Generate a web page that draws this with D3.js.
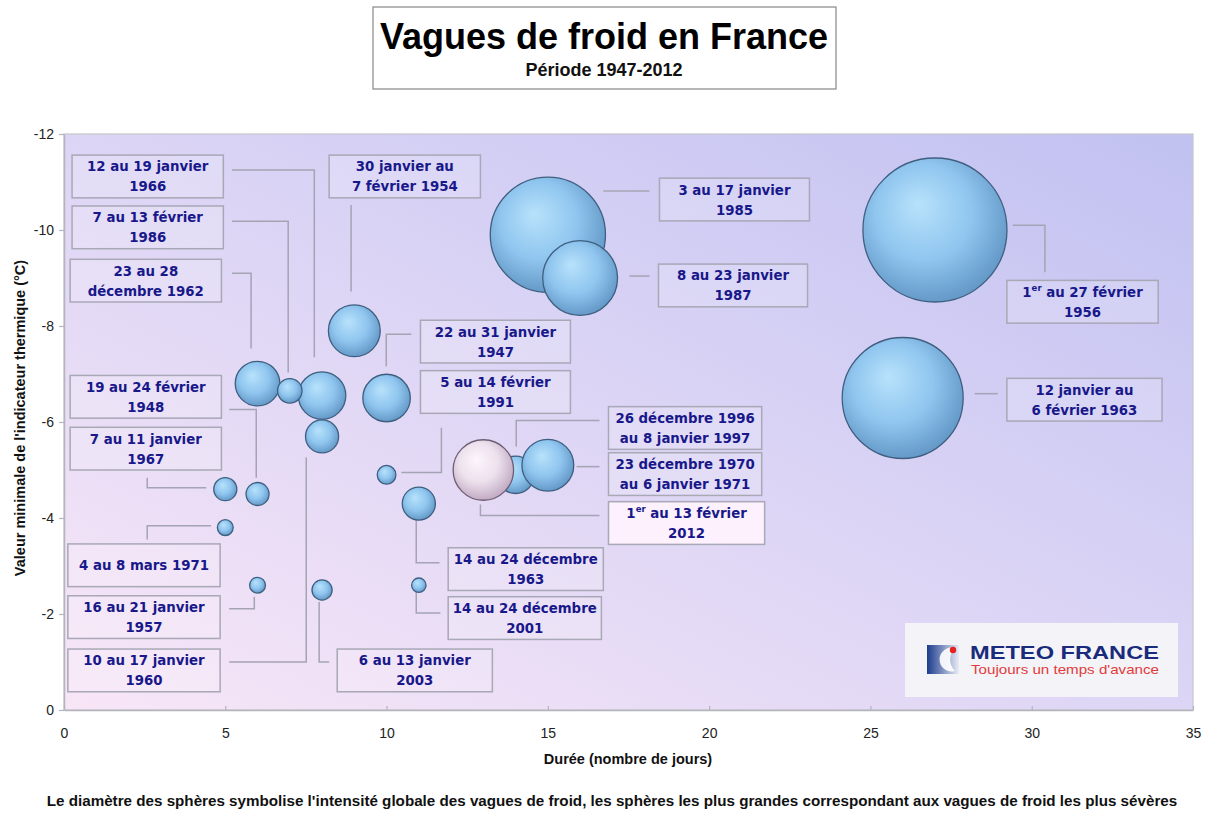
<!DOCTYPE html>
<html>
<head>
<meta charset="utf-8">
<script src="https://cdn.jsdelivr.net/npm/d3@7"></script>
<style>
  body { margin: 0; background: #fff; }
  text { font-family: "Liberation Sans", Arial, sans-serif; }
  .lbl { font-family: "DejaVu Sans Condensed", "DejaVu Sans", sans-serif; font-weight: bold; font-size: 14.8px; fill: #18188a; }
</style>
</head>
<body>
<script>
// Data: duration (days), min of thermal indicator (°C),
// global intensity (drives the sphere diameter), period labels
var periods = [
  "1er au 27 février\n1956",
  "12 janvier au\n6 février 1963",
  "3 au 17 janvier\n1985",
  "8 au 23 janvier\n1987",
  "30 janvier au\n7 février 1954",
  "22 au 31 janvier\n1947",
  "12 au 19 janvier\n1966",
  "23 au 28\ndécembre 1962",
  "7 au 13 février\n1986",
  "10 au 17 janvier\n1960",
  "14 au 24 décembre\n1963",
  "26 décembre 1996\nau 8 janvier 1997",
  "23 décembre 1970\nau 6 janvier 1971",
  "1er au 13 février\n2012",
  "7 au 11 janvier\n1967",
  "19 au 24 février\n1948",
  "5 au 14 février\n1991",
  "4 au 8 mars 1971",
  "16 au 21 janvier\n1957",
  "6 au 13 janvier\n2003",
  "14 au 24 décembre\n2001"
];
var durations   = [27, 26, 15, 16, 9, 10, 8, 6, 7, 8, 11, 14, 15, 13, 5, 6, 10, 5, 6, 8, 11];
var minTemps    = [-10.0, -6.5, -9.9, -9.0, -7.9, -6.5, -6.55, -6.8, -6.65, -5.7, -4.3, -4.9, -5.1, -5.0, -4.6, -4.5, -4.9, -3.8, -2.6, -2.5, -2.6];
var intensities = [100, 84, 80, 52, 36, 33, 33, 31, 17, 23, 23, 26, 36, 42, 16, 16, 13, 11, 11, 14, 10];
var highlighted = "1er au 13 février\n2012";

var xTicks = [0, 5, 10, 15, 20, 25, 30, 35];
var yTicks = [0, -2, -4, -6, -8, -10, -12];

// Annotation layout (data units): box top-left, box width, and leader line
var labelLayout = [
  {bx: 29.23, by: -8.95, bw: 4.69, link: [[29.41, -10.10], [30.41, -10.10], [30.41, -9.12]]},
  {bx: 29.23, by: -6.91, bw: 4.81, link: [[28.95, -6.59], [28.23, -6.59]]},
  {bx: 18.46, by: -11.08, bw: 4.65, link: [[18.15, -10.81], [16.72, -10.81]]},
  {bx: 18.43, by: -9.29, bw: 4.62, link: [[18.15, -9.04], [17.53, -9.04]]},
  {bx: 8.22, by: -11.56, bw: 4.69, link: [[8.90, -10.52], [8.90, -8.72]]},
  {bx: 11.05, by: -8.12, bw: 4.65, link: [[10.77, -7.83], [9.99, -7.83], [9.99, -7.16]]},
  {bx: 0.25, by: -11.56, bw: 4.69, link: [[5.21, -11.25], [7.76, -11.25], [7.76, -7.35]]},
  {bx: 0.19, by: -9.39, bw: 4.69, link: [[5.21, -9.10], [5.80, -9.10], [5.80, -7.53]]},
  {bx: 0.25, by: -10.50, bw: 4.69, link: [[5.21, -10.18], [6.95, -10.18], [6.95, -7.03]]},
  {bx: 0.12, by: -1.27, bw: 4.72, link: [[5.12, -1.00], [7.51, -1.00], [7.51, -5.26]]},
  {bx: 11.91, by: -3.38, bw: 4.81, link: [[11.64, -3.07], [10.92, -3.07], [10.92, -4.01]]},
  {bx: 16.88, by: -6.32, bw: 4.75, link: [[16.60, -6.03], [14.02, -6.03], [14.02, -5.49]]},
  {bx: 16.88, by: -5.36, bw: 4.75, link: [[16.60, -5.07], [15.89, -5.07]]},
  {bx: 16.88, by: -4.34, bw: 4.84, link: [[16.60, -4.05], [12.91, -4.05], [12.91, -4.28]]},
  {bx: 0.19, by: -5.89, bw: 4.69, link: [[2.58, -4.84], [2.58, -4.63], [4.41, -4.63]]},
  {bx: 0.19, by: -6.97, bw: 4.69, link: [[5.12, -6.26], [5.96, -6.26], [5.96, -4.84]]},
  {bx: 11.05, by: -7.07, bw: 4.65, link: [[11.70, -5.88], [11.70, -4.95], [10.46, -4.95]]},
  {bx: 0.12, by: -3.46, bw: 4.72, link: [[2.58, -3.55], [2.58, -3.84], [4.56, -3.84]]},
  {bx: 0.12, by: -2.38, bw: 4.72, link: [[5.12, -2.11], [5.90, -2.11], [5.90, -2.36]]},
  {bx: 8.47, by: -1.27, bw: 4.81, link: [[8.22, -1.00], [7.91, -1.00], [7.91, -2.25]]},
  {bx: 11.91, by: -2.36, bw: 4.75, link: [[11.67, -2.02], [10.92, -2.02], [10.92, -2.50]]}
];

var waves = periods.map(function(p, i) {
  return {period: p, duree: durations[i], tmin: minTemps[i], intensite: intensities[i], layout: labelLayout[i]};
});

var W = 1210, H = 816;
var plot = {left: 64, top: 134, right: 1193, bottom: 710};

var svg = d3.select("body").append("svg")
  .attr("width", W)
  .attr("height", H);

var x = d3.scaleLinear().domain([0, 35]).range([plot.left, plot.right]);
var y = d3.scaleLinear().domain([0, -12]).range([plot.bottom, plot.top]);
var r = d3.scaleLinear().domain([0, 100]).range([0, 72]);

// gradients
var defs = svg.append("defs");
var bg = defs.append("linearGradient").attr("id", "bg")
  .attr("x1", 0).attr("y1", 1).attr("x2", 1).attr("y2", 0);
bg.append("stop").attr("offset", "0%").attr("stop-color", "#f8e6f7");
bg.append("stop").attr("offset", "50%").attr("stop-color", "#dcd5f5");
bg.append("stop").attr("offset", "100%").attr("stop-color", "#c1c1f1");

var blue = defs.append("radialGradient").attr("id", "sphere")
  .attr("cx", "45%").attr("cy", "42%").attr("r", "60%")
  .attr("fx", "38%").attr("fy", "32%");
blue.append("stop").attr("offset", "0%").attr("stop-color", "#b8e2fb");
blue.append("stop").attr("offset", "55%").attr("stop-color", "#90c6ef");
blue.append("stop").attr("offset", "100%").attr("stop-color", "#6297c6");

var pink = defs.append("radialGradient").attr("id", "sphere2012")
  .attr("cx", "45%").attr("cy", "42%").attr("r", "60%")
  .attr("fx", "38%").attr("fy", "32%");
pink.append("stop").attr("offset", "0%").attr("stop-color", "#fdf6fd");
pink.append("stop").attr("offset", "55%").attr("stop-color", "#ece0ec");
pink.append("stop").attr("offset", "100%").attr("stop-color", "#bfa8c2");

var logoGrad = defs.append("linearGradient").attr("id", "logo")
  .attr("x1", 0).attr("y1", 0).attr("x2", 1).attr("y2", 0);
logoGrad.append("stop").attr("offset", "0%").attr("stop-color", "#1c3b8c");
logoGrad.append("stop").attr("offset", "100%").attr("stop-color", "#e8ecf6");

// Title box
svg.append("rect")
  .attr("x", 373).attr("y", 7).attr("width", 463).attr("height", 82)
  .attr("fill", "#fff").attr("stroke", "#888").attr("stroke-width", 1.2);
svg.append("text")
  .attr("x", 604).attr("y", 49).attr("text-anchor", "middle")
  .style("font-size", "36px").style("font-weight", "bold").attr("fill", "#000")
  .text("Vagues de froid en France");
svg.append("text")
  .attr("x", 604).attr("y", 76).attr("text-anchor", "middle")
  .style("font-size", "18px").style("font-weight", "bold").attr("fill", "#111")
  .text("Période 1947-2012");

// Plot background
svg.append("rect")
  .attr("x", plot.left).attr("y", plot.top)
  .attr("width", plot.right - plot.left).attr("height", plot.bottom - plot.top)
  .attr("fill", "url(#bg)").attr("stroke", "#c6c6cc").attr("stroke-width", 1.2);

// Axes
var xAxis = svg.append("g")
  .attr("transform", "translate(0," + plot.bottom + ")")
  .call(d3.axisBottom(x).tickValues(xTicks).tickSize(-4).tickPadding(18).tickSizeOuter(0));
var yAxis = svg.append("g")
  .attr("transform", "translate(" + plot.left + ",0)")
  .call(d3.axisLeft(y).tickValues(yTicks).tickFormat(function(d) { return String(d); })
    .tickSize(5).tickPadding(5).tickSizeOuter(0));
[xAxis, yAxis].forEach(function(a) {
  a.select(".domain").attr("stroke", "#b4b4bc").attr("stroke-width", 1.5);
  a.selectAll(".tick line").attr("stroke", "#b4b4bc").attr("stroke-width", 1.2);
  a.selectAll(".tick text")
    .style("font-family", "'Liberation Sans', Arial, sans-serif")
    .style("font-size", "14px").attr("fill", "#222");
});

svg.append("text")
  .attr("x", 628).attr("y", 764).attr("text-anchor", "middle")
  .style("font-size", "14.5px").style("font-weight", "bold").attr("fill", "#111")
  .text("Durée (nombre de jours)");
svg.append("text")
  .attr("transform", "translate(25,418) rotate(-90)").attr("text-anchor", "middle")
  .style("font-size", "14.5px").style("font-weight", "bold").attr("fill", "#111")
  .text("Valeur minimale de l'indicateur thermique (°C)");

// Leader lines
var line = d3.line().x(function(d) { return x(d[0]); }).y(function(d) { return y(d[1]); });
svg.append("g").selectAll("path")
    .data(waves).enter()
  .append("path")
    .attr("d", function(d) { return line(d.layout.link); })
    .attr("fill", "none").attr("stroke", "#a4a4b4").attr("stroke-width", 1.5);

// Label boxes (by = top edge in °C, box extends boxH towards 0)
var boxH = 0.89;
var boxes = svg.append("g").selectAll("g")
    .data(waves).enter()
  .append("g");
boxes.append("rect")
  .attr("x", function(d) { return x(d.layout.bx); })
  .attr("y", function(d) { return y(d.layout.by); })
  .attr("width", function(d) { return x(d.layout.bw) - x(0); })
  .attr("height", y(0) - y(-boxH))
  .attr("fill", function(d) { return d.period === highlighted ? "#fcf1fc" : "rgba(255,255,255,0.18)"; })
  .attr("stroke", "#a8a8b6").attr("stroke-width", 1.5);

boxes.each(function(d) {
  var g = d3.select(this);
  var lines = d.period.split("\n");
  var cx = x(d.layout.bx + d.layout.bw / 2);
  var cy = y(d.layout.by + boxH / 2);
  lines.forEach(function(l, i) {
    var t = g.append("text").attr("class", "lbl")
      .attr("x", cx).attr("y", cy + 5 + (i - (lines.length - 1) / 2) * 20)
      .attr("text-anchor", "middle");
    if (l.indexOf("1er") === 0) {
      t.append("tspan").text("1");
      t.append("tspan").attr("dy", -6).style("font-size", "9.5px").text("er");
      t.append("tspan").attr("dy", 6).text(l.slice(3));
    } else {
      t.text(l);
    }
  });
});

// Spheres
svg.append("g").selectAll("circle")
    .data(waves).enter()
  .append("circle")
    .attr("cx", function(d) { return x(d.duree); })
    .attr("cy", function(d) { return y(d.tmin); })
    .attr("r", function(d) { return r(d.intensite); })
    .attr("fill", function(d) { return d.period === highlighted ? "url(#sphere2012)" : "url(#sphere)"; })
    .attr("stroke", function(d) { return d.period === highlighted ? "#6e5e74" : "#3f5f80"; })
    .attr("stroke-width", 1.3);

// Meteo France logo
var logo = svg.append("g").attr("transform", "translate(905,623)");
logo.append("rect").attr("width", 273).attr("height", 74).attr("fill", "#f4f4f8");
logo.append("rect").attr("x", 22).attr("y", 22).attr("width", 32).attr("height", 29).attr("fill", "url(#logo)");
logo.append("path")
  .attr("d", "M50,25 A12,12 0 1 0 50,48 A16,16 0 0 1 50,25 Z")
  .attr("fill", "#fff").attr("opacity", 0.9);
logo.append("circle").attr("cx", 48).attr("cy", 27).attr("r", 3.2).attr("fill", "#e52222");
logo.append("text").attr("x", 65).attr("y", 36)
  .attr("textLength", 189).attr("lengthAdjust", "spacingAndGlyphs")
  .style("font-size", "18px").style("font-weight", "bold").attr("fill", "#1a2b7c")
  .text("METEO FRANCE");
logo.append("text").attr("x", 66).attr("y", 51)
  .attr("textLength", 188).attr("lengthAdjust", "spacingAndGlyphs")
  .style("font-size", "13px").attr("fill", "#e23a3a")
  .text("Toujours un temps d'avance");

// Caption
svg.append("text")
  .attr("x", 612).attr("y", 806).attr("text-anchor", "middle")
  .style("font-size", "15.2px").style("font-weight", "bold").attr("fill", "#111")
  .text("Le diamètre des sphères symbolise l'intensité globale des vagues de froid, les sphères les plus grandes correspondant aux vagues de froid les plus sévères");
</script>
</body>
</html>
